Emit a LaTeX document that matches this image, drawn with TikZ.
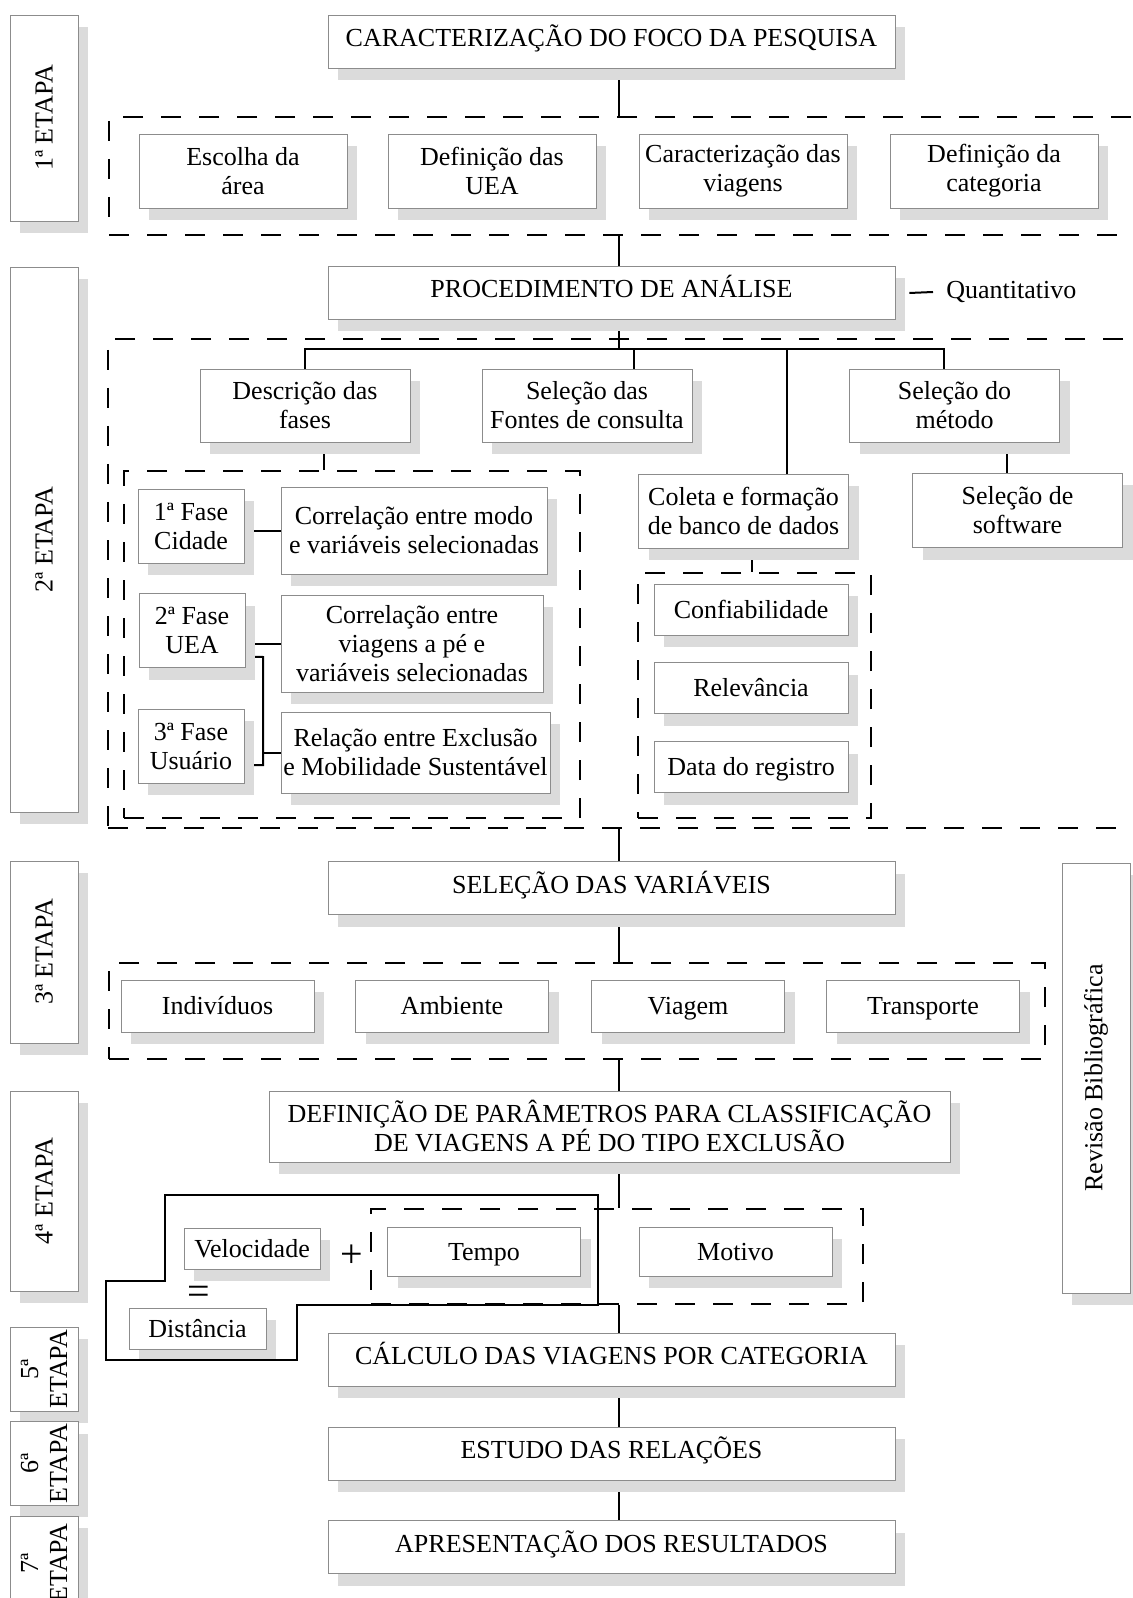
\documentclass[tikz,border=0pt]{standalone}
\usepackage{fontspec}
\setmainfont{Liberation Serif}
\usetikzlibrary{shadows,calc,backgrounds}
\tikzset{   box/.style = {draw=black!45, fill=white, thin, rectangle, align=center, inner sep=1pt, drop shadow={shadow xshift=5pt, shadow yshift=-6pt, fill=black!14, opacity=1}},
            one/.style = {text height=9pt, text depth=4pt},
            low/.style = {text height=9pt, text depth=0.5pt},
            wide/.style = {box, one, minimum width=283.5pt, minimum height=26.5pt},
            quad/.style = {box, minimum width=104pt, minimum height=37pt},
            mid/.style = {box, minimum width=105pt, minimum height=36.5pt},
            fase/.style = {box, minimum width=53pt, minimum height=37pt},
            item/.style = {box, low, minimum width=97pt, minimum height=25.5pt},
            var/.style = {box, low, minimum width=96.5pt, minimum height=26pt},
            etapa/.style = {box, rotate=90, minimum height=34pt},
            frame/.style = {draw, line width=1pt, dash pattern=on 10pt off 9pt, rectangle, inner sep=0pt},
            link/.style = {draw, line width=1pt},
            sign/.style = {font=\fontsize{20}{20}\selectfont, inner sep=0pt}}

\begin{document}
\begin{tikzpicture}[x=0.5pt, y=-0.5pt, font=\fontsize{13}{14.5}\selectfont]
    \useasboundingbox (0,0) rectangle (1132,1598);
    \coordinate(axis)at(619,0);

    \node[etapa, minimum width=103pt](e1)at(44,118){1ª ETAPA};
    \node[etapa, minimum width=272.5pt](e2)at(44,539.5){2ª ETAPA};
    \node[etapa, minimum width=91pt](e3)at(44,952){3ª ETAPA};
    \node[etapa, minimum width=100pt](e4)at(44,1191){4ª ETAPA};
    \node[etapa, minimum width=42pt](e5)at(44,1369){5ª\\ETAPA};
    \node[etapa, minimum width=41.5pt](e6)at(44,1463.5){6ª\\ETAPA};
    \node[etapa, minimum width=47pt](e7)at(44,1563){7ª\\ETAPA};

    \node[wide](car)at(611.5,41.5){CARACTERIZAÇÃO DO FOCO DA PESQUISA};
    \node[frame, minimum width=520.5pt, minimum height=59pt](g1)at(629.5,176){};
    \node[quad](b1)at(243,171){Escolha da\\área};
    \node[quad](b2)at(492,171){Definição das\\UEA};
    \node[quad](b3)at(743,171){Caracterização das\\viagens};
    \node[quad](b4)at(994,171){Definição da\\categoria};

    \node[wide](proc)at(611.5,293){PROCEDIMENTO DE ANÁLISE};
    \node[anchor=west, inner sep=0pt](quant)at(946,292){Quantitativo};
    \node[frame, minimum width=521pt, minimum height=244.5pt](g2)at(629,583.5){};
    \node[mid](desc)at(305,405.5){Descrição das\\fases};
    \node[mid](fontes)at(587,405.5){Seleção das\\Fontes de consulta};
    \node[mid](metodo)at(954.5,405.5){Seleção do\\método};
    \node[mid, minimum height=37pt](coleta)at(743.5,511){Coleta e formação\\de banco de dados};
    \node[mid, minimum height=37pt](soft)at(1017.5,510.5){Seleção de\\software};

    \node[frame, minimum width=228pt, minimum height=173.5pt](gf)at(352,644.5){};
    \node[fase](f1)at(191,526){1ª Fase\\Cidade};
    \node[fase](f2)at(192,630.5){2ª Fase\\UEA};
    \node[fase](f3)at(191,746){3ª Fase\\Usuário};
    \node[box, minimum width=133pt, minimum height=43.5pt](r1)at(414,530.5){Correlação entre modo\\e variáveis selecionadas};
    \node[box, minimum width=131pt, minimum height=48.5pt](r2)at(412,643.5){Correlação entre\\viagens a pé e\\variáveis selecionadas};
    \node[box, minimum width=134.5pt, minimum height=40.5pt](r3)at(415.5,752.5){Relação entre Exclusão\\e Mobilidade Sustentável};

    \node[frame, minimum width=116.5pt, minimum height=122.5pt](gc)at(754.5,695.5){};
    \node[item](i1)at(751,609.5){Confiabilidade};
    \node[item](i2)at(751,688){Relevância};
    \node[item](i3)at(751,767){Data do registro};

    \node[wide](sel)at(611.5,888){SELEÇÃO DAS VARIÁVEIS};
    \node[frame, minimum width=468pt, minimum height=48pt](g3)at(577,1011){};
    \node[var](v1)at(217.5,1006){Indivíduos};
    \node[var](v2)at(452,1006){Ambiente};
    \node[var](v3)at(688,1006){Viagem};
    \node[var](v4)at(923,1006){Transporte};
    \node[etapa, minimum width=215pt](rev)at(1096,1078){Revisão Bibliográfica};

    \node[box, minimum width=340.5pt, minimum height=35.5pt](def)at(609.5,1126.5){DEFINIÇÃO DE PARÂMETROS PARA CLASSIFICAÇÃO\\DE VIAGENS A PÉ DO TIPO EXCLUSÃO};
    \node[frame, minimum width=246pt, minimum height=47.5pt](g4)at(617,1256.5){};
    \node[var, minimum height=24.5pt](tempo)at(484,1251.5){Tempo};
    \node[var, minimum height=24.5pt](motivo)at(735.5,1251.5){Motivo};
    \node[box, low, minimum width=68pt, minimum height=20.5pt](vel)at(252,1248.5){Velocidade};
    \node[box, low, minimum width=68.5pt, minimum height=20.5pt](dist)at(197.5,1328.5){Distância};
    \node[sign](plus)at(352,1256){+};
    \node[sign](eq)at(199,1295){=};
    \draw[line width=1pt](165,1195)--(598,1195)--(598,1305)--(297,1305)--(297,1360)--(106,1360)--(106,1281)--(165,1281)--cycle;

    \node[wide](calc)at(611.5,1359.5){CÁLCULO DAS VIAGENS POR CATEGORIA};
    \node[wide](est)at(611.5,1453.5){ESTUDO DAS RELAÇÕES};
    \node[wide](apr)at(611.5,1547){APRESENTAÇÃO DOS RESULTADOS};

    \coordinate(hub)at(619,349);
    \coordinate(d2)at(634,349);
    \coordinate(d3)at(787,349);
    \coordinate(d4)at(944,349);
    \coordinate(d5)at(1007,0);
    \coordinate(d6)at(324,0);
    \coordinate(d7)at(752,0);
    \coordinate(br1)at(263,657);
    \coordinate(br2)at(263,765);

    \begin{scope}[on background layer]
    \draw[link](car.south -| axis)--(g1.north -| axis);
    \draw[link](g1.south -| axis)--(proc.north -| axis);
    \draw[link]([xshift=7pt]proc.east)--([xshift=-6.5pt]quant.west);
    \draw[link](proc.south -| axis)--(hub);
    \draw[link](desc.north)|-(d4)--(d4 |- metodo.north);
    \draw[link](d2)--(d2 |- fontes.north);
    \draw[link](d3)--(d3 |- coleta.north);
    \draw[link](d5 |- metodo.south)--(d5 |- soft.north);
    \draw[link](d6 |- desc.south)--(d6 |- gf.north);
    \draw[link](d7 |- coleta.south)--(d7 |- gc.north);
    \draw[link](r1.west -| f1.east)--(r1.west);
    \draw[link](r2.west -| f2.east)--(r2.west);
    \draw[link]([yshift=-13pt]f2.east)--(br1)--(br2)--(br2 -| f3.east);
    \draw[link](br1 |- r3.west)--(r3.west);
    \draw[link](g2.south -| axis)--(sel.north -| axis);
    \draw[link](sel.south -| axis)--(g3.north -| axis);
    \draw[link](g3.south -| axis)--(def.north -| axis);
    \draw[link](def.south -| axis)--(g4.north -| axis);
    \draw[link](g4.south -| axis)--(calc.north -| axis);
    \draw[link](calc.south -| axis)--(est.north -| axis);
    \draw[link](est.south -| axis)--(apr.north -| axis);
    \end{scope}
\end{tikzpicture}
\end{document}
